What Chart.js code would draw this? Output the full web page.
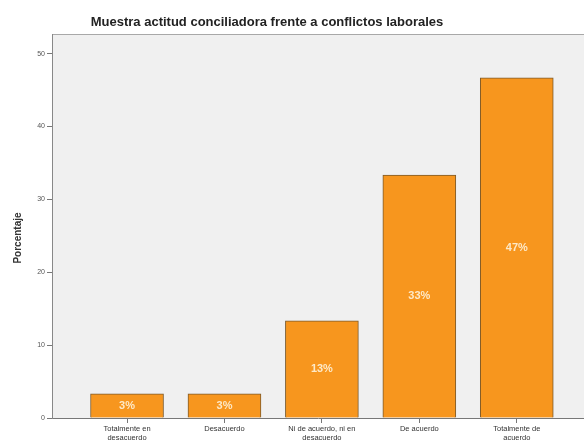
<!DOCTYPE html>
<html>
<head>
<meta charset="utf-8">
<script src="https://cdn.jsdelivr.net/npm/chart.js@4"></script>
<style>
  html, body { margin: 0; padding: 0; background: #fff; }
  #wrap { width: 584px; height: 441px; }
</style>
</head>
<body>
<div id="wrap"><canvas id="grafico" width="584" height="441"></canvas></div>
<script>
const categorias = [
    ['Totalmente en', 'desacuerdo'],
    ['Desacuerdo'],
    ['Ni de acuerdo, ni en', 'desacuerdo'],
    ['De acuerdo'],
    ['Totalmente de', 'acuerdo']
];
const porcentajes = [3.33, 3.33, 13.33, 33.33, 46.67];
const ticksY = [0, 10, 20, 30, 40, 50];
const titulo = 'Muestra actitud conciliadora frente a conflictos laborales';
const tituloY = 'Porcentaje';

const fuente = "'Liberation Sans', Arial, sans-serif";

// fondo gris del area, marco superior y titulos
const fondoPlot = {
    id: 'fondoPlot',
    beforeDraw(chart) {
        const { ctx, chartArea: a } = chart;
        ctx.save();
        ctx.fillStyle = '#f0f0f0';
        ctx.fillRect(a.left, a.top, a.right - a.left, a.bottom - a.top);
        ctx.strokeStyle = '#a8a8a8';
        ctx.lineWidth = 1;
        ctx.beginPath();
        ctx.moveTo(a.left, a.top + 0.5);
        ctx.lineTo(a.right, a.top + 0.5);
        ctx.stroke();
        ctx.restore();
    },
    afterDraw(chart) {
        const { ctx } = chart;
        ctx.save();
        ctx.fillStyle = '#222';
        ctx.font = 'bold 13px ' + fuente;
        ctx.textAlign = 'center';
        ctx.textBaseline = 'middle';
        ctx.fillText(titulo, 267, 22);

        ctx.fillStyle = '#333';
        ctx.font = 'bold 10px ' + fuente;
        ctx.translate(18, 238);
        ctx.rotate(-Math.PI / 2);
        ctx.fillText(tituloY, 0, 0);
        ctx.restore();
    }
};

// etiquetas de porcentaje dentro de las barras
const etiquetas = {
    id: 'etiquetas',
    afterDatasetsDraw(chart) {
        const { ctx } = chart;
        const meta = chart.getDatasetMeta(0);
        ctx.save();
        ctx.fillStyle = '#fde9c8';
        ctx.font = 'bold 11px ' + fuente;
        ctx.textAlign = 'center';
        ctx.textBaseline = 'middle';
        meta.data.forEach((bar, i) => {
            const y = (bar.y + bar.base) / 2;
            ctx.fillText(Math.round(porcentajes[i]) + '%', bar.x, y);
        });
        ctx.restore();
    }
};

new Chart(document.getElementById('grafico'), {
    type: 'bar',
    data: {
        datasets: [{
            data: porcentajes.map((v, i) => ({ x: i, y: v })),
            backgroundColor: '#f7961e',
            borderColor: '#7d5a2a',
            borderWidth: 1,
            barThickness: 73
        }]
    },
    options: {
        responsive: false,
        animation: false,
        layout: { padding: { top: 34, right: 0, left: 0, bottom: 0 } },
        plugins: {
            legend: { display: false },
            tooltip: { enabled: false }
        },
        scales: {
            x: {
                type: 'linear',
                offset: false,
                min: -0.77,
                max: 4.69,
                afterBuildTicks: (s) => { s.ticks = categorias.map((c, i) => ({ value: i })); },
                afterFit: (s) => { s.height = 23; },
                ticks: {
                    callback: (v) => categorias[v],
                    autoSkip: false,
                    maxRotation: 0,
                    color: '#333',
                    font: { family: fuente, size: 7.5 },
                    padding: 1
                },
                grid: { offset: false, drawOnChartArea: false, tickLength: 5, color: '#777' },
                border: { color: '#777' }
            },
            y: {
                min: 0,
                max: 52.7,
                afterBuildTicks: (s) => { s.ticks = ticksY.map(v => ({ value: v })); },
                afterFit: (s) => { s.width = 52; },
                ticks: {
                    color: '#555',
                    font: { family: fuente, size: 7 },
                    padding: 2
                },
                grid: { drawOnChartArea: false, tickLength: 5, color: '#777' },
                border: { color: '#888' }
            }
        }
    },
    plugins: [fondoPlot, etiquetas]
});
</script>
</body>
</html>
